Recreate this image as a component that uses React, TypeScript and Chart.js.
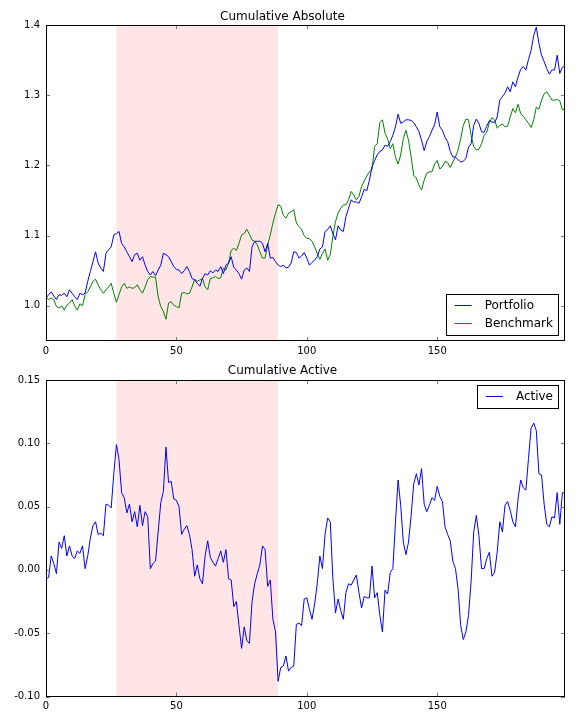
import React, { useEffect, useRef } from 'react';
import { Chart, registerables } from 'chart.js';
Chart.register(...registerables);

const portfolio = [
  1.011, 1.016, 1.020, 1.014, 1.009, 1.016, 1.015, 1.018, 1.013, 1.023,
  1.018, 1.013, 1.009, 1.018, 1.016, 1.018, 1.035, 1.049, 1.063, 1.077,
  1.061, 1.054, 1.049, 1.075, 1.080, 1.084, 1.101, 1.103, 1.106, 1.089,
  1.084, 1.077, 1.070, 1.063, 1.073, 1.075, 1.065, 1.070, 1.058, 1.049,
  1.044, 1.049, 1.043, 1.051, 1.058, 1.075, 1.073, 1.070, 1.063, 1.056,
  1.052, 1.051, 1.046, 1.050, 1.056, 1.049, 1.039, 1.037, 1.032, 1.028,
  1.039, 1.046, 1.044, 1.050, 1.047, 1.051, 1.049, 1.056, 1.046, 1.058,
  1.061, 1.070, 1.055, 1.051, 1.046, 1.038, 1.051, 1.054, 1.049, 1.084,
  1.092, 1.092, 1.092, 1.089, 1.077, 1.089, 1.068, 1.069, 1.063, 1.058,
  1.056, 1.058, 1.054, 1.055, 1.061, 1.077, 1.076, 1.068, 1.071, 1.076,
  1.068, 1.058, 1.062, 1.065, 1.070, 1.081, 1.084, 1.106, 1.109, 1.114,
  1.103, 1.094, 1.114, 1.108, 1.106, 1.127, 1.139, 1.151, 1.148, 1.148,
  1.146, 1.155, 1.166, 1.164, 1.179, 1.198, 1.207, 1.215, 1.220, 1.222,
  1.229, 1.227, 1.234, 1.243, 1.255, 1.273, 1.260, 1.262, 1.265, 1.265,
  1.264, 1.261, 1.255, 1.248, 1.236, 1.221, 1.234, 1.241, 1.250, 1.258,
  1.276, 1.255, 1.250, 1.240, 1.234, 1.220, 1.212, 1.212, 1.208, 1.205,
  1.206, 1.210, 1.226, 1.231, 1.257, 1.266, 1.260, 1.248, 1.247, 1.256,
  1.264, 1.262, 1.261, 1.269, 1.293, 1.298, 1.303, 1.312, 1.305, 1.319,
  1.312, 1.326, 1.337, 1.341, 1.336, 1.351, 1.364, 1.385, 1.397, 1.374,
  1.357, 1.348, 1.338, 1.330, 1.336, 1.336, 1.357, 1.331, 1.340, 1.341,
];

const benchmark = [
  1.013, 1.009, 1.011, 1.009, 0.999, 0.997, 1.000, 0.994, 1.001, 1.004,
  1.009, 1.000, 0.994, 1.003, 1.000, 1.016, 1.020, 1.027, 1.035, 1.038,
  1.030, 1.023, 1.018, 1.023, 1.027, 1.032, 1.018, 1.005, 1.016, 1.027,
  1.032, 1.025, 1.027, 1.025, 1.026, 1.030, 1.023, 1.018, 1.027, 1.037,
  1.042, 1.041, 1.041, 1.013, 0.999, 0.992, 0.981, 1.004, 1.006, 1.001,
  0.999, 0.997, 1.018, 1.019, 1.017, 1.018, 1.027, 1.038, 1.035, 1.037,
  1.039, 1.027, 1.023, 1.039, 1.040, 1.042, 1.039, 1.040, 1.054, 1.051,
  1.061, 1.079, 1.082, 1.079, 1.089, 1.101, 1.103, 1.109, 1.102, 1.094,
  1.092, 1.087, 1.077, 1.068, 1.068, 1.087, 1.101, 1.118, 1.132, 1.144,
  1.142, 1.129, 1.125, 1.132, 1.134, 1.137, 1.118, 1.113, 1.109, 1.100,
  1.096, 1.096, 1.092, 1.084, 1.075, 1.066, 1.075, 1.081, 1.065, 1.073,
  1.099, 1.120, 1.132, 1.139, 1.144, 1.144, 1.151, 1.163, 1.158, 1.151,
  1.156, 1.170, 1.178, 1.185, 1.191, 1.194, 1.227, 1.231, 1.261, 1.265,
  1.246, 1.238, 1.224, 1.231, 1.212, 1.202, 1.215, 1.238, 1.250, 1.236,
  1.212, 1.186, 1.182, 1.172, 1.165, 1.179, 1.189, 1.191, 1.191, 1.202,
  1.207, 1.195, 1.198, 1.206, 1.204, 1.197, 1.205, 1.212, 1.222, 1.238,
  1.257, 1.266, 1.265, 1.243, 1.227, 1.222, 1.223, 1.231, 1.243, 1.247,
  1.261, 1.268, 1.265, 1.253, 1.257, 1.259, 1.255, 1.256, 1.269, 1.281,
  1.275, 1.287, 1.274, 1.270, 1.265, 1.260, 1.254, 1.265, 1.283, 1.280,
  1.293, 1.302, 1.305, 1.299, 1.293, 1.293, 1.294, 1.292, 1.279, 1.281,
];

const active = [
  -0.007, -0.006, 0.011, 0.005, -0.003, 0.022, 0.017, 0.027, 0.011, 0.019,
  0.011, 0.009, 0.015, 0.013, 0.019, 0.001, 0.011, 0.025, 0.035, 0.038,
  0.028, 0.029, 0.027, 0.052, 0.051, 0.049, 0.076, 0.099, 0.087, 0.061,
  0.057, 0.045, 0.052, 0.038, 0.046, 0.034, 0.051, 0.035, 0.046, 0.042,
  0.001, 0.005, 0.007, 0.030, 0.053, 0.062, 0.097, 0.069, 0.070, 0.056,
  0.055, 0.050, 0.028, 0.032, 0.035, 0.028, 0.016, -0.005, 0.004, -0.007,
  -0.011, 0.011, 0.023, 0.010, 0.006, 0.003, 0.009, 0.015, 0.006, 0.016,
  -0.007, -0.008, -0.029, -0.025, -0.044, -0.062, -0.045, -0.056, -0.058, -0.025,
  -0.011, -0.003, 0.004, 0.019, 0.016, -0.013, -0.008, -0.039, -0.049, -0.088,
  -0.077, -0.076, -0.068, -0.080, -0.077, -0.076, -0.043, -0.042, -0.044, -0.023,
  -0.022, -0.031, -0.039, -0.027, -0.011, 0.011, 0.001, 0.028, 0.041, 0.038,
  -0.007, -0.034, -0.023, -0.032, -0.039, -0.018, -0.011, -0.012, -0.008, -0.004,
  -0.018, -0.030, -0.021, -0.022, -0.022, 0.003, -0.022, -0.018, -0.036, -0.049,
  -0.016, -0.019, -0.002, 0.001, 0.038, 0.071, 0.051, 0.022, 0.012, 0.022,
  0.043, 0.068, 0.076, 0.067, 0.080, 0.052, 0.046, 0.051, 0.057, 0.055,
  0.066, 0.058, 0.054, 0.034, 0.028, 0.023, 0.007, 0.001, -0.015, -0.044,
  -0.055, -0.049, -0.036, -0.009, 0.030, 0.043, 0.027, 0.001, 0.001, 0.009,
  0.014, -0.005, -0.002, 0.014, 0.038, 0.030, 0.051, 0.054, 0.047, 0.038,
  0.034, 0.056, 0.071, 0.065, 0.063, 0.088, 0.112, 0.116, 0.110, 0.076,
  0.075, 0.052, 0.036, 0.034, 0.042, 0.041, 0.061, 0.036, 0.061, 0.061,
];

const xTicks = [0, 50, 100, 150];
const absTicks = [1.0, 1.1, 1.2, 1.3, 1.4];
const actTicks = [-0.1, -0.05, 0.0, 0.05, 0.1, 0.15];
const shadeRange = [27, 89];

const FONT = "'DejaVu Sans', sans-serif";
const BLUE = '#0000ff';
const GREEN = '#008000';

type LegendItem = { label: string; color: string };

function decorPlugin(items: LegendItem[], corner: 'lower right' | 'upper right', yTickVals: number[]) {
  return {
    id: 'mplDecor',
    beforeDatasetsDraw(chart: any) {
      const { ctx, chartArea: a, scales } = chart;
      const x0 = scales.x.getPixelForValue(shadeRange[0]);
      const x1 = scales.x.getPixelForValue(shadeRange[1]);
      ctx.save();
      ctx.fillStyle = 'rgba(255,0,0,0.1)';
      ctx.fillRect(x0, a.top, x1 - x0, a.bottom - a.top);
      ctx.restore();
    },
    afterDatasetsDraw(chart: any) {
      const { ctx, chartArea: a, scales } = chart;
      ctx.save();
      // inward ticks
      ctx.strokeStyle = '#777';
      ctx.lineWidth = 1;
      const L = 4;
      ctx.beginPath();
      xTicks.forEach((v) => {
        const px = Math.round(scales.x.getPixelForValue(v)) + 0.5;
        ctx.moveTo(px, a.bottom);
        ctx.lineTo(px, a.bottom - L);
        ctx.moveTo(px, a.top);
        ctx.lineTo(px, a.top + L);
      });
      yTickVals.forEach((v) => {
        const py = Math.round(scales.y.getPixelForValue(v)) + 0.5;
        ctx.moveTo(a.left, py);
        ctx.lineTo(a.left + L, py);
        ctx.moveTo(a.right, py);
        ctx.lineTo(a.right - L, py);
      });
      ctx.stroke();
      // frame
      ctx.strokeStyle = '#000';
      ctx.lineWidth = 1;
      const l = Math.round(a.left) + 0.5;
      const t = Math.round(a.top) + 0.5;
      const r = Math.round(a.right) - 0.5;
      const b = Math.round(a.bottom) - 0.5;
      ctx.strokeRect(l, t, r - l, b - t);
      // legend
      ctx.font = `12px ${FONT}`;
      const textW = Math.max(...items.map((it) => ctx.measureText(it.label).width));
      const w = 39 + textW + 6;
      const h = 11 + 13 + (items.length - 1) * 18;
      const right = Math.round(a.right) - 6;
      const left = right - w;
      const top = corner === 'lower right' ? Math.round(a.bottom) - 5 - h : Math.round(a.top) + 5;
      ctx.fillStyle = '#fff';
      ctx.fillRect(left, top, w, h);
      ctx.strokeStyle = '#000';
      ctx.strokeRect(Math.round(left) + 0.5, top + 0.5, Math.round(w) - 1, h - 1);
      items.forEach((it, i) => {
        const cy = top + 11 + i * 18;
        ctx.strokeStyle = it.color;
        ctx.lineWidth = 1;
        ctx.beginPath();
        ctx.moveTo(left + 9, cy + 0.5);
        ctx.lineTo(left + 26, cy + 0.5);
        ctx.stroke();
        ctx.fillStyle = '#000';
        ctx.textBaseline = 'middle';
        ctx.textAlign = 'left';
        ctx.fillText(it.label, left + 39, cy + 1);
      });
      ctx.restore();
    },
  };
}

function makeOptions(
  yMin: number,
  yMax: number,
  yTickVals: number[],
  decimals: number,
  xAxisHeight: number,
  title: string,
  titlePad: { top: number; bottom: number }
): any {
  return {
    responsive: false,
    animation: false,
    layout: { padding: { left: 0, right: 11, top: 0, bottom: 0 } },
    plugins: {
      legend: { display: false },
      tooltip: { enabled: false },
      title: {
        display: true,
        text: title,
        color: '#000',
        font: { family: FONT, size: 12, weight: 'normal', lineHeight: 1.2 },
        padding: titlePad,
      },
    },
    elements: {
      point: { radius: 0 },
      line: { borderWidth: 1, tension: 0, borderJoinStyle: 'round' },
    },
    scales: {
      x: {
        type: 'linear',
        min: 0,
        max: 199,
        grid: { display: false, drawTicks: false },
        border: { display: false },
        afterBuildTicks: (s: any) => {
          s.ticks = xTicks.map((v) => ({ value: v }));
        },
        afterFit: (s: any) => {
          s.height = xAxisHeight;
        },
        ticks: {
          autoSkip: false,
          maxRotation: 0,
          padding: 4,
          color: '#000',
          font: { family: FONT, size: 10 },
          callback: (v: any) => String(v),
        },
      },
      y: {
        type: 'linear',
        min: yMin,
        max: yMax,
        grid: { display: false, drawTicks: false },
        border: { display: false },
        afterBuildTicks: (s: any) => {
          s.ticks = yTickVals.map((v) => ({ value: v }));
        },
        afterFit: (s: any) => {
          s.width = 46;
        },
        ticks: {
          autoSkip: false,
          padding: 6,
          color: '#000',
          font: { family: FONT, size: 10 },
          callback: (v: any) => Number(v).toFixed(decimals),
        },
      },
    },
  };
}

export default function App() {
  const topRef = useRef<HTMLCanvasElement | null>(null);
  const botRef = useRef<HTMLCanvasElement | null>(null);

  useEffect(() => {
    const topChart = new Chart(topRef.current as HTMLCanvasElement, {
      type: 'line',
      data: {
        datasets: [
          {
            label: 'Portfolio',
            data: portfolio.map((v, i) => ({ x: i, y: v })),
            borderColor: BLUE,
            backgroundColor: BLUE,
            borderWidth: 1,
            pointRadius: 0,
            fill: false,
          },
          {
            label: 'Benchmark',
            data: benchmark.map((v, i) => ({ x: i, y: v })),
            borderColor: GREEN,
            backgroundColor: GREEN,
            borderWidth: 1,
            pointRadius: 0,
            fill: false,
          },
        ],
      },
      options: makeOptions(0.95, 1.4, absTicks, 1, 19, 'Cumulative Absolute', { top: 10, bottom: 0.6 }),
      plugins: [
        decorPlugin(
          [
            { label: 'Portfolio', color: BLUE },
            { label: 'Benchmark', color: GREEN },
          ],
          'lower right',
          absTicks
        ),
      ],
    } as any);

    const botChart = new Chart(botRef.current as HTMLCanvasElement, {
      type: 'line',
      data: {
        datasets: [
          {
            label: 'Active',
            data: active.map((v, i) => ({ x: i, y: v })),
            borderColor: BLUE,
            backgroundColor: BLUE,
            borderWidth: 1,
            pointRadius: 0,
            fill: false,
          },
        ],
      },
      options: makeOptions(-0.1, 0.15, actTicks, 2, 23.5, 'Cumulative Active', { top: 4, bottom: 1.6 }),
      plugins: [decorPlugin([{ label: 'Active', color: BLUE }], 'upper right', actTicks)],
    } as any);

    return () => {
      topChart.destroy();
      botChart.destroy();
    };
  }, []);

  return (
    <div style={{ position: 'absolute', left: 0, top: 0, width: 576, height: 720, background: '#fff' }}>
      <canvas ref={topRef} width={576} height={360} style={{ display: 'block', width: 576, height: 360 }} />
      <canvas ref={botRef} width={576} height={360} style={{ display: 'block', width: 576, height: 360 }} />
    </div>
  );
}
